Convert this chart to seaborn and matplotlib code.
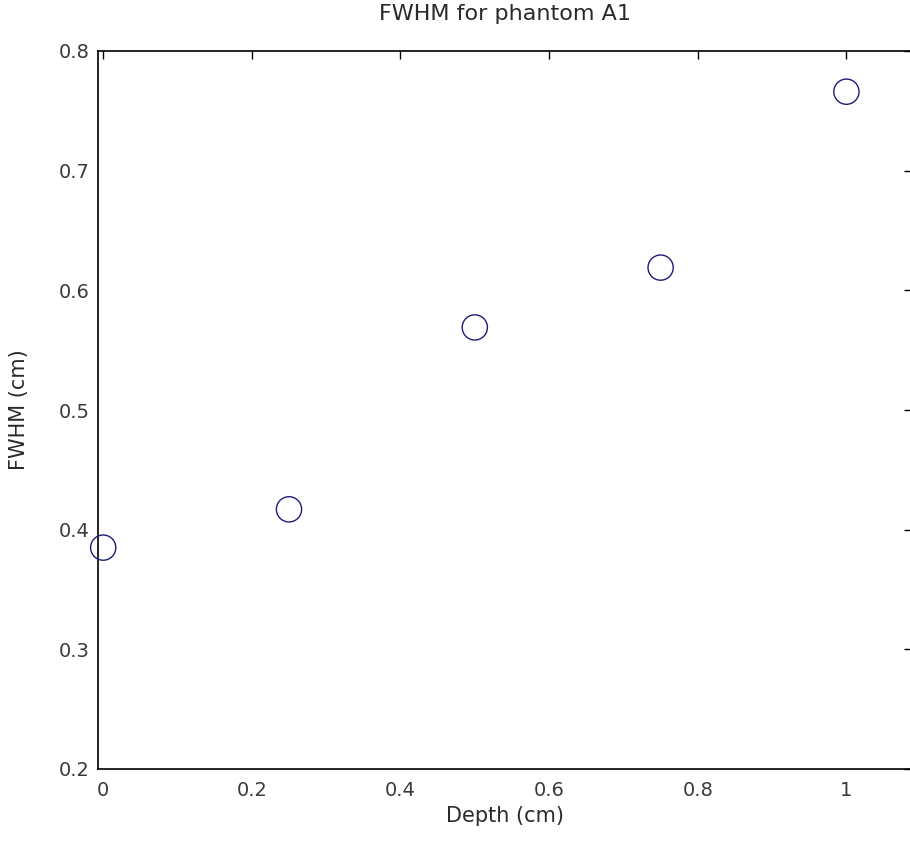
import matplotlib
matplotlib.use("Agg")
import matplotlib.pyplot as plt
import seaborn as sns
import pandas as pd

depth = [0.0, 0.25, 0.5, 0.75, 1.0]
fwhm = [0.385, 0.417, 0.569, 0.619, 0.766]
x_ticks = [0, 0.2, 0.4, 0.6, 0.8, 1]
x_tick_labels = ["0", "0.2", "0.4", "0.6", "0.8", "1"]
y_ticks = [0.2, 0.3, 0.4, 0.5, 0.6, 0.7, 0.8]
y_tick_labels = ["0.2", "0.3", "0.4", "0.5", "0.6", "0.7", "0.8"]

sns.set_style("white")
plt.rcParams['font.family'] = ['DejaVu Sans']

df = pd.DataFrame({"Depth": depth, "FWHM": fwhm})

fig = plt.figure(figsize=(9.10, 8.43), dpi=100)
ax = fig.add_axes([98/910, 74/843, 1 - 98/910 + 0.002, (769 - 51)/843])

sns.scatterplot(data=df, x="Depth", y="FWHM", ax=ax, marker="o", s=330,
                facecolor="none", edgecolor="#1c1c78", linewidth=1.0,
                legend=False, clip_on=False, zorder=5)

ax.set_xlim(-0.007, 1.088)
ax.set_ylim(0.2, 0.8)
ax.set_xticks(x_ticks)
ax.set_xticklabels(x_tick_labels)
ax.set_yticks(y_ticks)
ax.set_yticklabels(y_tick_labels)
ax.tick_params(direction="in", length=6, width=1, top=True, right=True,
               labelsize=14, colors="black", labelcolor="#3a3a3a")
ax.tick_params(axis="x", pad=9)
ax.tick_params(axis="y", pad=6)
for sp in ax.spines.values():
    sp.set_visible(True)
    sp.set_color("black")
    sp.set_linewidth(1.2)

ax.set_xlabel("Depth (cm)", fontsize=15, color="#2a2a2a", labelpad=4)
ax.set_ylabel("FWHM (cm)", fontsize=15, color="#2a2a2a", labelpad=21)
ax.set_title("FWHM for phantom A1", fontsize=16, color="#2a2a2a", pad=22)

fig.savefig("out.png", dpi=100)
